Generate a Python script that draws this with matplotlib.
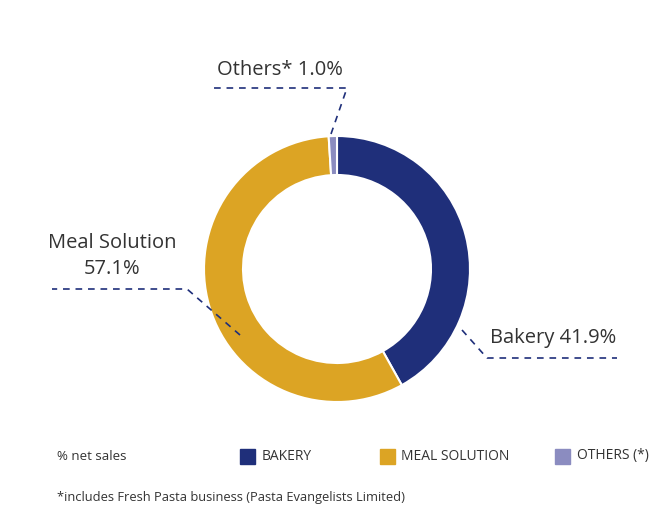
import matplotlib.pyplot as plt

segments = ["Bakery", "Meal Solution", "Others*"]
shares = [41.9, 57.1, 1.0]
colors = ["#1f2f7a", "#dca424", "#8b8cc0"]
legend_labels = ["BAKERY", "MEAL SOLUTION", "OTHERS (*)"]

W, H = 655, 507
fig = plt.figure(figsize=(W / 100, H / 100), dpi=100)
ax = fig.add_axes([0, 0, 1, 1])

cx, cy, r_out, ring = 337, H - 269, 133, 39
ax.pie(shares, colors=colors, startangle=90, counterclock=False,
       radius=r_out, center=(cx, cy),
       wedgeprops=dict(width=ring, edgecolor="white", linewidth=1.5))
ax.set_xlim(0, W)
ax.set_ylim(0, H)
ax.set_aspect("equal")
ax.axis("off")

font = "Open Sans"
txt = "#333333"
line_col = "#1f2f7a"

def leader(points):
    xs = [p[0] for p in points]
    ys = [H - p[1] for p in points]
    ax.plot(xs, ys, color=line_col, lw=1.2, ls=(0, (4, 3.5)))

# leader lines (pixel coordinates from the top-left)
leader([(331, 134), (347, 88), (212, 88)])
leader([(240, 335), (187, 289), (52, 289)])
leader([(462, 330), (487, 358), (617, 358)])

ax.text(280, H - 70, f"{segments[2]} {shares[2]:.1f}%", fontsize=14.5,
        family=font, color=txt, ha="center", va="center")
ax.text(112, H - 256, f"{segments[1]}\n{shares[1]:.1f}%", fontsize=14.5,
        family=font, color=txt, ha="center", va="center", linespacing=1.45)
ax.text(490, H - 338, f"{segments[0]} {shares[0]:.1f}%", fontsize=14.5,
        family=font, color=txt, ha="left", va="center")

# legend row
ly = H - 456
ax.text(57, ly, "% net sales", fontsize=9.5, family=font, color=txt, va="center")
for x0, tx, lab, c in zip([240, 380, 555], [262, 401, 577], legend_labels, colors):
    ax.add_patch(plt.Rectangle((x0, ly - 8), 15, 15, color=c))
    ax.text(tx, ly, lab, fontsize=10, family=font, color=txt, va="center")

ax.text(57, H - 497, "*includes Fresh Pasta business (Pasta Evangelists Limited)",
        fontsize=9.3, family=font, color=txt, va="center")

fig.savefig("out.png", dpi=100)
